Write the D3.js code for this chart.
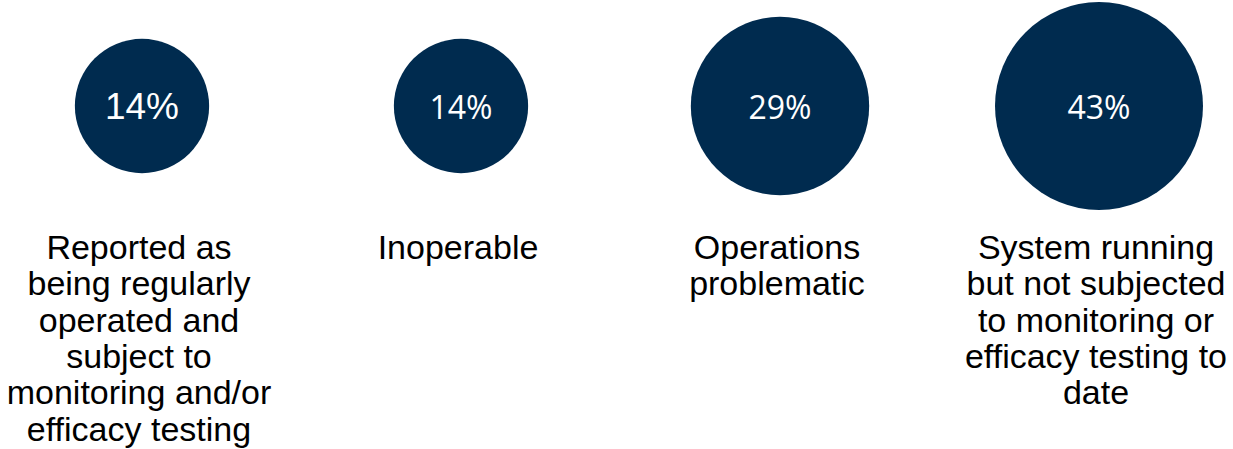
<!DOCTYPE html>
<html>
<head>
<meta charset="utf-8">
<script src="https://cdn.jsdelivr.net/npm/d3@7"></script>
<style>
  body { margin: 0; background: #fff; }
</style>
</head>
<body>
<svg id="chart" width="1233" height="449"></svg>
<script>
// chart values
let categories = [
    "Reported as being regularly operated and subject to monitoring and/or efficacy testing",
    "Inoperable",
    "Operations problematic",
    "System running but not subjected to monitoring or efficacy testing to date"
];
let values = [14, 14, 29, 43];
let valueLabels = ["14%", "14%", "29%", "43%"];
// how the label of each category is broken into lines
let labelLines = [
    ["Reported as", "being regularly", "operated and", "subject to", "monitoring and/or", "efficacy testing"],
    ["Inoperable"],
    ["Operations", "problematic"],
    ["System running", "but not subjected", "to monitoring or", "efficacy testing to", "date"]
];

let svg = d3.select("#chart");
let navy = "#002b4f";
let cy = 106;

let x = d3.scalePoint()
    .domain(categories)
    .range([142, 1099]);

// bubble radius grows slower than the value, as in the original slide
let r = d3.scalePow()
    .exponent(0.39)
    .domain([0, 43])
    .range([0, 104]);

let bubbles = svg.selectAll(".bubble")
    .data(categories)
    .enter()
    .append("g")
    .attr("class", "bubble")
    .attr("transform", function (d) {
        return "translate(" + x(d) + "," + cy + ")";
    });

bubbles.append("circle")
    .attr("r", function (d, i) {
        return r(values[i]);
    })
    .attr("fill", navy);

// the first bubble uses a different font on the slide
bubbles.append("text")
    .attr("text-anchor", "middle")
    .attr("y", 13)
    .attr("fill", "#fff")
    .style("font-family", function (d, i) {
        return i == 0 ? "'Liberation Sans', Arial, sans-serif" : "'Open Sans', 'Noto Sans', sans-serif";
    })
    .style("font-size", function (d, i) {
        return i == 0 ? "37px" : "32px";
    })
    .text(function (d, i) {
        return valueLabels[i];
    });

// category labels under the bubbles
let labels = svg.selectAll(".label")
    .data(categories)
    .enter()
    .append("text")
    .attr("class", "label")
    .attr("text-anchor", "middle")
    .attr("fill", "#000")
    .style("font-family", "'Liberation Sans', Arial, sans-serif")
    .style("font-size", "34px");

labels.selectAll("tspan")
    .data(function (d, i) {
        return labelLines[i].map(function (line) {
            return {line: line, cat: d};
        });
    })
    .enter()
    .append("tspan")
    .attr("x", function (d) {
        return x(d.cat) - 3;
    })
    .attr("y", function (d, j) {
        return 259 + j * 36.3;
    })
    .text(function (d) {
        return d.line;
    });
</script>
</body>
</html>
